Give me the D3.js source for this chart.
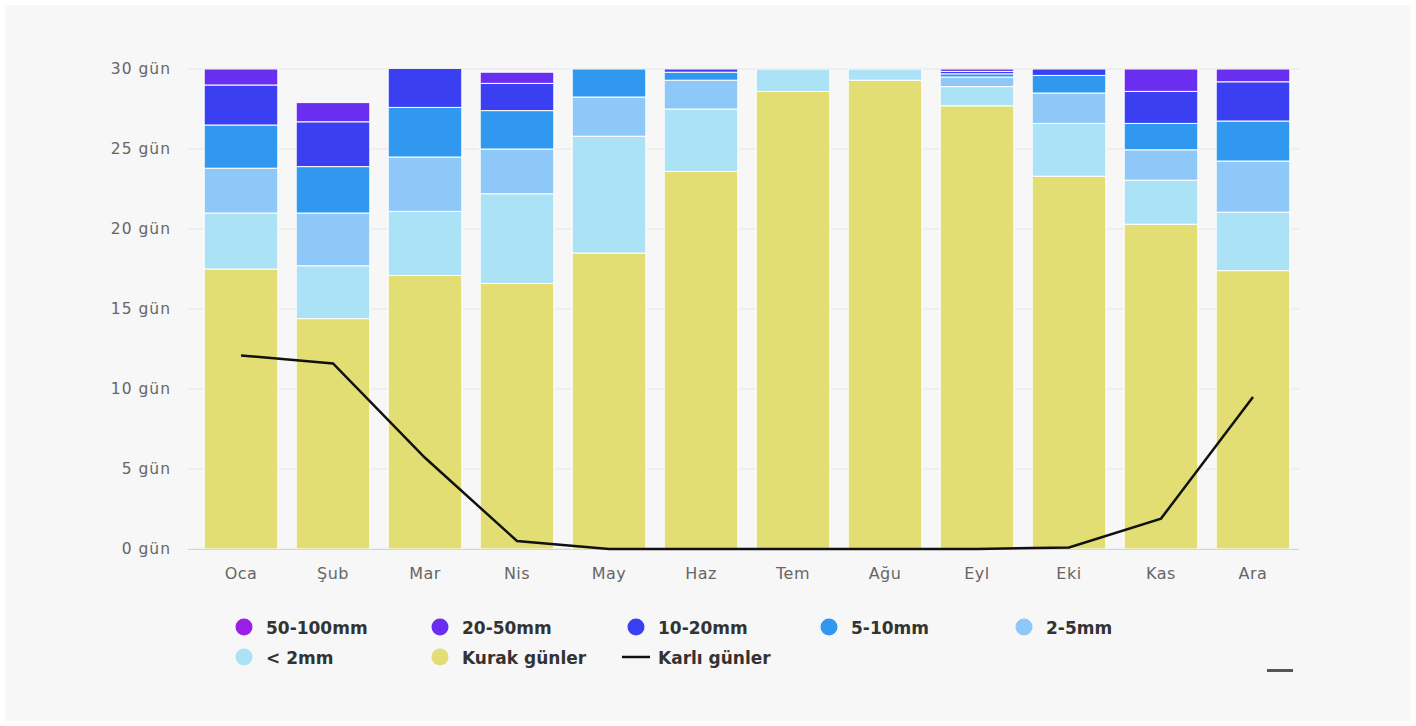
<!DOCTYPE html>
<html><head><meta charset="utf-8">
<script src="https://cdn.jsdelivr.net/npm/d3@7"></script>
<style>
html,body{margin:0;padding:0;background:#fff;}
svg{display:block;}
text{font-family:"DejaVu Sans",Verdana,sans-serif;}
</style></head>
<body>
<svg id="chart" width="1416" height="726"></svg>
<script>
const months = ["Oca","Şub","Mar","Nis","May","Haz","Tem","Ağu","Eyl","Eki","Kas","Ara"];
const seriesNames = ["Kurak günler","< 2mm","2-5mm","5-10mm","10-20mm","20-50mm","50-100mm"];
const seriesColors = ["#e2de74","#abe2f6","#8dc8f8","#3098ef","#3a3ff2","#6a2ef0","#9a1fe6"];
const kurak   = [17.5,14.4,17.1,16.6,18.5,23.6,28.6,29.3,27.7,23.3,20.3,17.4];
const lt2     = [3.5,3.3,4.0,5.6,7.3,3.9,1.4,0.7,1.2,3.3,2.75,3.65];
const mm2_5   = [2.8,3.3,3.4,2.8,2.45,1.8,0,0,0.6,1.9,1.9,3.2];
const mm5_10  = [2.7,2.9,3.1,2.4,1.75,0.5,0,0,0.2,1.1,1.65,2.5];
const mm10_20 = [2.5,2.8,2.5,1.7,0,0.2,0,0,0.15,0.4,2.0,2.45];
const mm20_50 = [1.0,1.2,0,0.7,0,0,0,0,0.15,0,1.4,0.8];
const mm50_100= [0,0,0,0,0,0,0,0,0,0,0,0];
const karli   = [12.1,11.6,5.7,0.5,0,0,0,0,0,0.1,1.9,9.5];
const yTicks  = [0,5,10,15,20,25,30];

const svg = d3.select("#chart");
svg.append("rect").attr("width",1416).attr("height",726).attr("fill","#fff");
svg.append("rect").attr("x",5).attr("y",5).attr("width",1406).attr("height",716).attr("fill","#f7f7f7");

const x = d3.scaleBand().domain(months).range([195,1299]).paddingInner(0.2).paddingOuter(0.1);
const y = d3.scaleLinear().domain([0,30]).range([549,69]);

// grid
svg.append("g").selectAll("line").data(yTicks).join("line")
  .attr("x1",188).attr("x2",1299).attr("y1",d=>y(d)).attr("y2",d=>y(d))
  .attr("stroke","#e6e6e6").attr("stroke-width",1);

// y labels
svg.append("g").selectAll("text").data(yTicks).join("text")
  .attr("x",171).attr("y",d=>y(d)+5).attr("text-anchor","end")
  .attr("font-size",15.5).attr("letter-spacing",1).attr("fill","#666").text(d=>d+" gün");

// stacked bars
const seriesData = [kurak,lt2,mm2_5,mm5_10,mm10_20,mm20_50,mm50_100];
const rows = months.map((m,i)=>{const r={month:m}; seriesNames.forEach((s,j)=>r[s]=seriesData[j][i]); return r;});
const stack = d3.stack().keys(seriesNames)(rows);
svg.append("clipPath").attr("id","clip").append("rect").attr("x",180).attr("y",y(30)).attr("width",1130).attr("height",y(0)-y(30)+1);
const bars = svg.append("g").attr("clip-path","url(#clip)");
stack.forEach((layer,j)=>{
  bars.append("g").selectAll("rect").data(layer.filter(d=>d[1]-d[0]>0)).join("rect")
    .attr("x",d=>x(d.data.month)).attr("width",x.bandwidth())
    .attr("y",d=>y(d[1])).attr("height",d=>y(d[0])-y(d[1]))
    .attr("fill",seriesColors[j]).attr("stroke","#fff").attr("stroke-width",1);
});

// x axis line
svg.append("line").attr("x1",188).attr("x2",1299).attr("y1",549.5).attr("y2",549.5).attr("stroke","#ccd6eb");
svg.append("g").selectAll("text").data(months).join("text")
  .attr("x",d=>x(d)+x.bandwidth()/2).attr("y",579).attr("text-anchor","middle")
  .attr("font-size",16).attr("letter-spacing",0.5).attr("fill","#666").text(d=>d);

// snow line
const line = d3.line().x((d,i)=>x(months[i])+x.bandwidth()/2).y(d=>y(d));
svg.append("path").datum(karli).attr("d",line).attr("fill","none").attr("stroke","#111").attr("stroke-width",2.5);

// legend
const legendItems = [
  {name:"50-100mm",color:seriesColors[6],type:"c",x:244,y:627},
  {name:"20-50mm",color:seriesColors[5],type:"c",x:440,y:627},
  {name:"10-20mm",color:seriesColors[4],type:"c",x:636,y:627},
  {name:"5-10mm",color:seriesColors[3],type:"c",x:829,y:627},
  {name:"2-5mm",color:seriesColors[2],type:"c",x:1024,y:627},
  {name:"< 2mm",color:seriesColors[1],type:"c",x:244,y:657},
  {name:"Kurak günler",color:seriesColors[0],type:"c",x:440,y:657},
  {name:"Karlı günler",color:"#111",type:"l",x:636,y:657}
];
const lg = svg.append("g");
legendItems.forEach(it=>{
  if(it.type==="c") lg.append("circle").attr("cx",it.x).attr("cy",it.y).attr("r",8.5).attr("fill",it.color);
  else lg.append("line").attr("x1",it.x-14).attr("x2",it.x+14).attr("y1",it.y).attr("y2",it.y).attr("stroke",it.color).attr("stroke-width",2.5);
  lg.append("text").attr("x",it.x+22).attr("y",it.y+6.5).attr("font-size",17).attr("font-weight","bold").attr("fill","#333").text(it.name);
});
// small menu dash
svg.append("rect").attr("x",1267).attr("y",669).attr("width",26).attr("height",3).attr("fill","#555");
</script>
</body></html>
